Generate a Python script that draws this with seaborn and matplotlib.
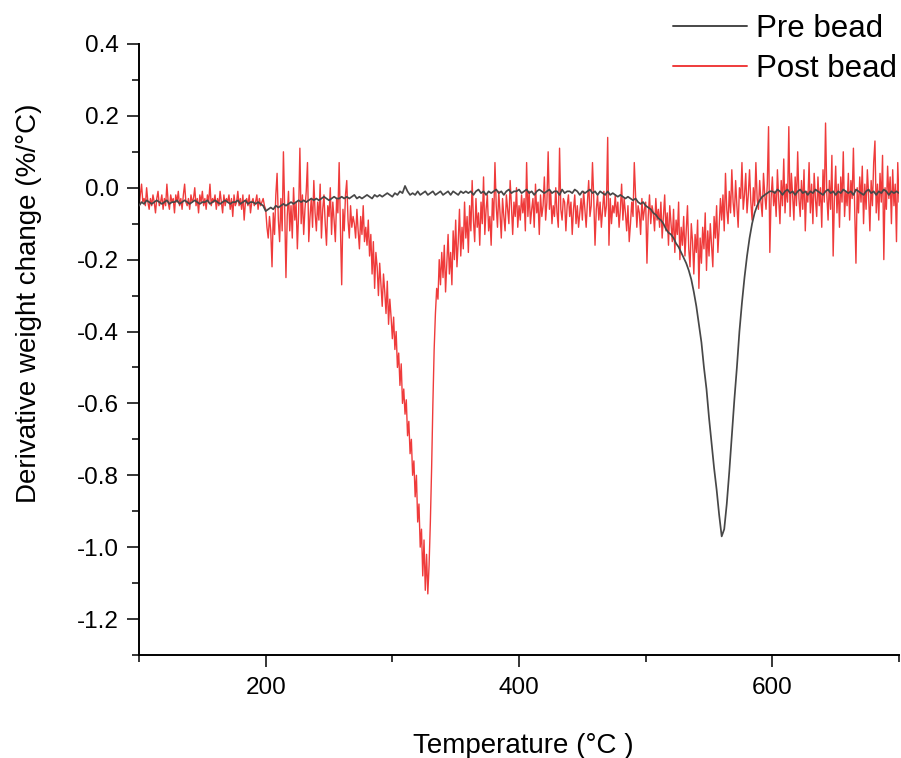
import numpy as np
import pandas as pd
import matplotlib
matplotlib.use("Agg")
import matplotlib.pyplot as plt
import seaborn as sns

# ---------------------------------------------------------------- data
# Derivative weight change (%/°C), post-bead sample, one reading per °C
post_100s = [
    -0.06, -0.02, 0.01, -0.04, -0.03, -0.05, 0.00, -0.04, -0.06, -0.03,
    -0.05, -0.02, -0.04, -0.07, -0.03, -0.01, -0.05, -0.04, -0.02, -0.06,
    -0.03, -0.05, 0.01, -0.04, -0.06, -0.02, -0.04, -0.03, -0.07, -0.02,
    -0.04, -0.01, -0.05, -0.03, -0.06, -0.02, 0.01, -0.04, -0.05, -0.03,
    -0.06, -0.02, -0.04, -0.03, 0.00, -0.05, -0.03, -0.07, -0.02, -0.04,
    -0.01, -0.05, -0.03, -0.06, -0.02, -0.04, 0.01, -0.05, -0.03, -0.04,
    -0.02, -0.06, -0.03, -0.05, -0.01, -0.04, -0.07, -0.02, -0.05, -0.03,
    -0.04, -0.02, -0.06, -0.03, -0.08, -0.02, -0.05, -0.04, -0.01, -0.05,
    -0.03, -0.06, -0.02, -0.09, -0.04, -0.03, -0.05, -0.02, -0.07, -0.04,
    -0.03, -0.05, -0.04, -0.02, -0.06, -0.03, -0.05, -0.04, -0.03, -0.05,
]
post_200s = [
    -0.06, -0.11, -0.14, -0.08, -0.12, -0.22, -0.07, -0.13, -0.02, 0.04,
    -0.09, -0.15, -0.03, -0.12, 0.10, -0.06, -0.25, -0.08, -0.01, -0.12,
    -0.05, -0.14, 0.00, -0.09, -0.04, -0.17, -0.07, 0.11, -0.10, -0.02,
    -0.13, -0.06, -0.01, 0.07, -0.15, -0.08, -0.03, -0.11, 0.02, -0.07,
    -0.12, -0.04, -0.09, 0.01, -0.14, -0.06, -0.02, -0.10, -0.16, -0.05,
    -0.08, 0.00, -0.13, -0.04, -0.09, -0.15, -0.03, -0.07, 0.07, -0.11,
    -0.27, -0.06, -0.12, -0.02, 0.02, -0.09, -0.14, -0.05, -0.11, -0.08,
    -0.10, -0.14, -0.06, -0.12, -0.17, -0.08, -0.13, -0.05, -0.15, -0.11,
    -0.16, -0.09, -0.19, -0.13, -0.24, -0.15, -0.28, -0.18, -0.22, -0.30,
    -0.21, -0.27, -0.33, -0.24, -0.29, -0.35, -0.26, -0.38, -0.31, -0.36,
]
post_300s = [
    -0.42, -0.36, -0.45, -0.40, -0.50, -0.46, -0.55, -0.49, -0.60, -0.56,
    -0.63, -0.59, -0.69, -0.65, -0.74, -0.70, -0.80, -0.76, -0.86, -0.80,
    -0.93, -0.88, -1.00, -0.95, -1.08, -0.98, -1.12, -1.02, -1.13, -1.05,
    -0.93, -0.78, -0.60, -0.45, -0.35, -0.28, -0.31, -0.20, -0.27, -0.18,
    -0.25, -0.16, -0.29, -0.21, -0.13, -0.24, -0.18, -0.27, -0.12, -0.20,
    -0.09, -0.22, -0.15, -0.06, -0.19, -0.11, -0.17, -0.04, -0.14, -0.08,
    -0.18, -0.05, -0.12, 0.02, -0.09, -0.15, -0.03, -0.11, -0.07, -0.16,
    -0.04, -0.10, 0.03, -0.13, -0.06, -0.02, -0.12, -0.08, -0.16, -0.03,
    -0.09, 0.07, -0.05, -0.11, -0.01, -0.07, -0.14, -0.03, -0.08, -0.12,
    -0.02, -0.06, -0.10, 0.02, -0.05, -0.13, -0.04, -0.08, 0.00, -0.11,
]
post_400s = [
    -0.05, -0.09, -0.02, -0.07, -0.03, -0.12, 0.07, -0.08, -0.01, -0.10,
    -0.06, -0.03, -0.11, 0.01, -0.07, -0.04, -0.13, -0.02, -0.08, -0.05,
    0.03, -0.09, -0.04, 0.10, -0.06, -0.01, -0.10, -0.05, -0.08, 0.00,
    -0.07, -0.11, 0.11, -0.06, -0.09, -0.03, -0.04, -0.12, -0.05, -0.02,
    -0.08, -0.04, -0.13, -0.06, -0.02, -0.10, -0.05, -0.11, -0.07, -0.03,
    -0.09, -0.01, -0.06, -0.11, -0.04, 0.02, -0.08, -0.05, 0.07, -0.03,
    -0.16, -0.06, -0.02, -0.09, -0.04, -0.11, -0.06, -0.01, -0.08, -0.05,
    0.14, -0.16, -0.03, -0.10, -0.05, -0.07, -0.02, -0.08, -0.04, -0.11,
    -0.06, 0.01, -0.09, -0.03, -0.07, -0.12, -0.05, -0.15, -0.10, -0.04,
    -0.08, 0.07, -0.02, -0.11, -0.05, -0.07, -0.13, -0.03, -0.09, -0.06,
]
post_500s = [
    -0.04, -0.21, -0.08, -0.02, -0.10, -0.05, -0.07, -0.12, -0.03, -0.09,
    -0.06, -0.11, -0.04, -0.14, -0.08, -0.02, -0.12, -0.07, -0.16, -0.05,
    -0.10, -0.15, -0.06, -0.18, -0.09, -0.13, -0.04, -0.20, -0.11, -0.16,
    -0.08, -0.19, -0.12, -0.05, -0.17, -0.22, -0.10, -0.15, -0.24, -0.13,
    -0.18, -0.09, -0.28, -0.14, -0.21, -0.11, -0.17, -0.07, -0.23, -0.12,
    -0.19, -0.10, -0.16, -0.22, -0.08, -0.14, -0.05, -0.18, -0.11, -0.03,
    -0.09, -0.02, -0.12, 0.04, -0.06, -0.10, -0.01, -0.07, 0.05, -0.04,
    -0.08, 0.02, -0.05, -0.11, 0.00, -0.03, 0.07, -0.06, -0.02, 0.04,
    -0.07, -0.02, 0.05, -0.04, -0.09, 0.00, -0.05, 0.07, -0.03, -0.06,
    0.02, -0.04, -0.08, 0.04, -0.02, -0.06, 0.01, 0.17, -0.18, -0.03,
]
post_600s = [
    0.03, -0.05, -0.01, -0.08, 0.05, -0.03, -0.10, 0.02, -0.05, 0.08,
    -0.07, 0.01, -0.04, 0.17, -0.08, 0.04, -0.02, -0.09, 0.03, -0.05,
    0.10, -0.03, -0.08, 0.02, -0.06, 0.05, -0.12, -0.01, -0.04, 0.07,
    -0.07, 0.01, -0.10, 0.04, -0.03, -0.08, 0.03, -0.05, 0.00, -0.11,
    0.05, -0.04, 0.18, -0.02, -0.09, 0.02, -0.06, 0.09, -0.19, -0.03,
    0.06, -0.07, 0.01, -0.11, 0.03, -0.04, 0.10, -0.08, -0.01, -0.05,
    0.04, -0.09, 0.02, -0.03, 0.11, -0.06, -0.21, 0.00, -0.07, 0.03,
    -0.04, 0.06, -0.10, 0.01, -0.06, 0.05, -0.02, -0.12, 0.02, -0.05,
    0.07, 0.13, -0.07, 0.01, -0.09, 0.04, -0.04, 0.09, -0.20, 0.00,
    -0.06, 0.06, -0.03, 0.03, -0.10, 0.05, -0.05, 0.01, -0.15, 0.07,
    -0.04,
]

# Pre-bead sample, one reading every 2 °C
pre_100s = [
    -0.050, -0.040, -0.045, -0.035, -0.040, -0.045, -0.040, -0.035, -0.040, -0.045,
    -0.040, -0.035, -0.045, -0.040, -0.040, -0.035, -0.045, -0.040, -0.035, -0.040,
    -0.045, -0.040, -0.035, -0.040, -0.045, -0.040, -0.040, -0.035, -0.045, -0.040,
    -0.035, -0.040, -0.045, -0.040, -0.035, -0.040, -0.045, -0.040, -0.040, -0.035,
    -0.045, -0.040, -0.035, -0.045, -0.040, -0.040, -0.045, -0.040, -0.045, -0.050,
]
pre_200s = [
    -0.065, -0.060, -0.055, -0.060, -0.050, -0.055, -0.050, -0.045, -0.050, -0.045,
    -0.040, -0.045, -0.040, -0.035, -0.040, -0.035, -0.040, -0.035, -0.030, -0.035,
    -0.030, -0.035, -0.030, -0.025, -0.030, -0.035, -0.030, -0.025, -0.030, -0.030,
    -0.025, -0.030, -0.025, -0.030, -0.025, -0.020, -0.030, -0.025, -0.030, -0.025,
    -0.020, -0.025, -0.030, -0.020, -0.025, -0.020, -0.025, -0.020, -0.015, -0.020,
]
pre_300s = [
    -0.025, -0.015, -0.020, -0.010, -0.015, 0.005, -0.010, -0.020, -0.015, -0.020,
    -0.010, -0.020, -0.015, -0.010, -0.020, -0.015, -0.010, -0.020, -0.015, -0.010,
    -0.020, -0.015, -0.010, -0.020, -0.010, -0.015, -0.020, -0.010, -0.015, -0.010,
    -0.015, -0.010, -0.020, -0.010, -0.005, -0.015, -0.010, -0.020, -0.010, -0.015,
    -0.010, -0.005, -0.015, -0.010, -0.020, -0.010, -0.005, -0.015, -0.010, -0.010,
]
pre_400s = [
    -0.005, -0.015, -0.010, -0.005, -0.015, -0.010, -0.020, -0.010, -0.005, -0.010,
    -0.015, -0.010, -0.005, -0.015, -0.010, -0.010, -0.020, -0.005, -0.015, -0.010,
    -0.010, -0.015, -0.005, -0.010, -0.020, -0.010, -0.015, -0.010, -0.005, -0.015,
    -0.010, -0.020, -0.010, -0.015, -0.020, -0.010, -0.020, -0.015, -0.020, -0.025,
    -0.020, -0.025, -0.030, -0.025, -0.030, -0.035, -0.030, -0.040, -0.045, -0.040,
]
pre_500s = [
    -0.050, -0.055, -0.060, -0.070, -0.075, -0.085, -0.090, -0.100, -0.115, -0.125,
    -0.130, -0.140, -0.155, -0.165, -0.180, -0.195, -0.210, -0.230, -0.255, -0.290,
    -0.330, -0.380, -0.430, -0.500, -0.560, -0.640, -0.710, -0.780, -0.840, -0.910,
    -0.970, -0.950, -0.880, -0.790, -0.690, -0.590, -0.500, -0.400, -0.320, -0.250,
    -0.190, -0.140, -0.100, -0.070, -0.050, -0.035, -0.025, -0.020, -0.015, -0.010,
]
pre_600s = [
    -0.010, -0.015, -0.005, -0.010, -0.020, -0.010, -0.005, -0.015, -0.010, -0.020,
    -0.010, -0.005, -0.015, -0.010, -0.020, -0.010, -0.015, -0.005, -0.010, -0.015,
    -0.020, -0.010, -0.005, -0.015, -0.010, -0.020, -0.010, -0.015, -0.005, -0.010,
    -0.015, -0.010, -0.020, -0.005, -0.010, -0.015, -0.020, -0.010, -0.005, -0.015,
    -0.010, -0.020, -0.010, -0.015, -0.005, -0.010, -0.020, -0.010, -0.015, -0.010,
    -0.015,
]

series_names = ["Pre bead", "Post bead"]
series_colors = ["#474747", "#ef3b3b"]

x_major = [200, 400, 600]
x_minor = [100, 300, 500, 700]
y_major = [0.4, 0.2, 0.0, -0.2, -0.4, -0.6, -0.8, -1.0, -1.2]
y_major_labels = ["0.4", "0.2", "0.0", "-0.2", "-0.4", "-0.6", "-0.8", "-1.0", "-1.2"]
y_minor = [0.3, 0.1, -0.1, -0.3, -0.5, -0.7, -0.9, -1.1, -1.3]

post_vals = post_100s + post_200s + post_300s + post_400s + post_500s + post_600s
pre_vals = pre_100s + pre_200s + pre_300s + pre_400s + pre_500s + pre_600s
post_df = pd.DataFrame({"T": np.arange(100, 100 + len(post_vals)), "dw": post_vals})
pre_df = pd.DataFrame({"T": np.arange(100, 100 + 2 * len(pre_vals), 2), "dw": pre_vals})

# ---------------------------------------------------------------- style
sns.set_theme(style="ticks")
plt.rcParams["font.family"] = ["Liberation Sans", "DejaVu Sans"]
plt.rcParams["axes.unicode_minus"] = False
for key in ["text.color", "axes.labelcolor", "xtick.color", "ytick.color",
            "axes.edgecolor"]:
    plt.rcParams[key] = "black"

fig = plt.figure(figsize=(9.01, 7.58), dpi=100)
ax = fig.add_axes([0.1543, 0.1359, 0.8435, 0.8061])

sns.lineplot(data=post_df, x="T", y="dw", ax=ax, color=series_colors[1],
             lw=1.0, estimator=None, sort=False, zorder=2, label=series_names[1])
sns.lineplot(data=pre_df, x="T", y="dw", ax=ax, color=series_colors[0],
             lw=1.25, estimator=None, sort=False, zorder=3, label=series_names[0])

ax.set_xlim(100, 700)
ax.set_ylim(-1.3, 0.4)

for side in ["top", "right"]:
    ax.spines[side].set_visible(False)
for side in ["left", "bottom"]:
    ax.spines[side].set_linewidth(1.4)
    ax.spines[side].set_color("black")

ax.set_xticks(x_major)
ax.set_xticks(x_minor, minor=True)
ax.set_yticks(y_major)
ax.set_yticklabels(y_major_labels)
ax.set_yticks(y_minor, minor=True)
ax.tick_params(which="major", direction="out", length=8.5, width=1.1,
               colors="black", labelsize=17.5)
ax.tick_params(which="minor", direction="out", length=5, width=1.1, colors="black")
ax.tick_params(axis="x", which="major", pad=7)
ax.tick_params(axis="y", which="major", pad=6)

ax.set_xlabel("Temperature (°C )", fontsize=20, color="black")
ax.set_ylabel("Derivative weight change (%/°C)", fontsize=20, color="black")
ax.xaxis.set_label_coords(0.505, -0.128)
ax.yaxis.set_label_coords(-0.128, 0.576)

handles, labels = ax.get_legend_handles_labels()
order = [labels.index(n) for n in series_names]
leg = ax.legend([handles[i] for i in order], [labels[i] for i in order],
                loc="upper right", bbox_to_anchor=(0.9956, 0.982),
                bbox_transform=fig.transFigure, frameon=False, fontsize=22.5,
                borderpad=0, borderaxespad=0, handlelength=2.35,
                handletextpad=0.3, labelspacing=0.34, labelcolor="black")
for line in leg.get_lines():
    line.set_linewidth(1.4)

fig.savefig("out.png", dpi=100)
